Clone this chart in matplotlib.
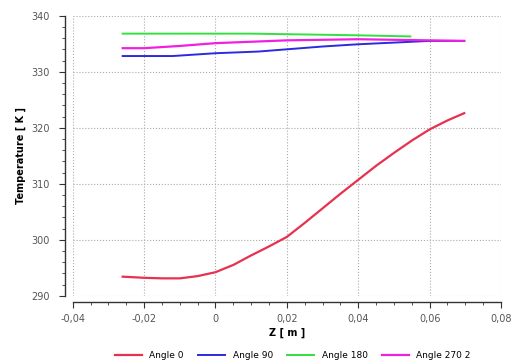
import matplotlib
matplotlib.use('Agg')
import matplotlib.pyplot as plt
from matplotlib.ticker import MultipleLocator, FuncFormatter

# Angle 0
z0 = [-0.026, -0.02, -0.015, -0.01, -0.005, 0.0, 0.005, 0.01, 0.015, 0.02, 0.025,
      0.03, 0.035, 0.04, 0.045, 0.05, 0.055, 0.06, 0.065, 0.0697]
t0 = [293.4, 293.2, 293.1, 293.1, 293.5, 294.2, 295.5, 297.2, 298.8, 300.5, 303.0,
      305.6, 308.2, 310.7, 313.2, 315.5, 317.7, 319.7, 321.3, 322.6]
# Angle 90
z90 = [-0.026, -0.012, 0.0, 0.012, 0.02, 0.03, 0.04, 0.05, 0.06, 0.0697]
t90 = [332.8, 332.8, 333.3, 333.6, 334.0, 334.5, 334.9, 335.2, 335.5, 335.5]
# Angle 180
z180 = [-0.026, 0.0, 0.01, 0.02, 0.03, 0.04, 0.0546]
t180 = [336.8, 336.8, 336.8, 336.7, 336.6, 336.5, 336.3]
# Angle 270 2
z270 = [-0.026, -0.02, -0.01, 0.0, 0.012, 0.02, 0.03, 0.04, 0.05, 0.06, 0.0697]
t270 = [334.2, 334.2, 334.6, 335.1, 335.4, 335.6, 335.7, 335.8, 335.7, 335.6, 335.5]

fig = plt.figure(figsize=(5.22, 3.62), dpi=100)
ax = fig.add_axes([0.1393, 0.1831, 0.8205, 0.7735])

ax.plot(z0, t0, color='#e8304f', linewidth=1.6, label='Angle 0')
ax.plot(z90, t90, color='#2a2ae0', linewidth=1.4, label='Angle 90')
ax.plot(z180, t180, color='#33e040', linewidth=1.4, label='Angle 180')
ax.plot(z270, t270, color='#f020e0', linewidth=1.6, label='Angle 270 2')

ax.set_xlim(-0.04, 0.08)
ax.set_ylim(290, 340)
ax.xaxis.set_major_locator(MultipleLocator(0.02))
ax.xaxis.set_minor_locator(MultipleLocator(0.005))
ax.yaxis.set_major_locator(MultipleLocator(10))
ax.yaxis.set_minor_locator(MultipleLocator(2))

def comma(v, pos):
    if abs(v) < 1e-9:
        return '0'
    return ('%.2f' % v).replace('.', ',')

ax.xaxis.set_major_formatter(FuncFormatter(comma))

for s in ['top', 'right']:
    ax.spines[s].set_visible(False)
ax.spines['left'].set_position(('outward', 5.5))
ax.spines['bottom'].set_position(('outward', 4.5))
for s in ['left', 'bottom']:
    ax.spines[s].set_color('#333333')
    ax.spines[s].set_linewidth(1.0)

ax.tick_params(which='major', direction='out', length=4, color='#333333',
               labelsize=7, labelcolor='#555555')
ax.tick_params(axis='y', which='major', pad=7)
ax.tick_params(axis='x', which='major', pad=5)
ax.tick_params(which='minor', direction='out', length=2, color='#333333')
ax.grid(True, which='major', linestyle=':', color='#aaaaaa', linewidth=0.8)

ax.set_xlabel('Z [ m ]', fontsize=7, fontweight='bold', labelpad=2)
ax.set_ylabel('Temperature [ K ]', fontsize=7, fontweight='bold', labelpad=4)

ax.legend(loc='upper center', bbox_to_anchor=(0.514, -0.17), ncol=4, frameon=False,
          fontsize=6.5, handlelength=3, columnspacing=1.6)

fig.savefig('out.png', dpi=100)
